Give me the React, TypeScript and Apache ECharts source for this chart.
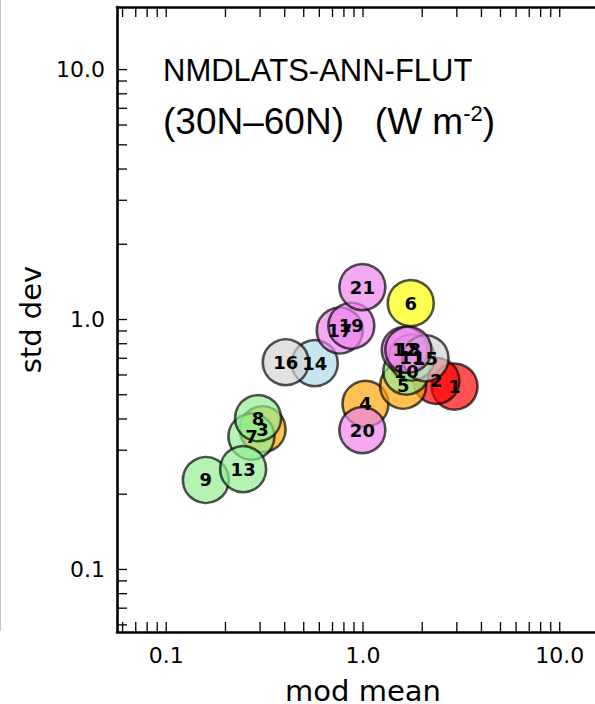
import React, { useEffect, useRef } from "react";
import * as echarts from "echarts";

// Model numbers plotted on each marker
const modelIds = [1, 2, 3, 4, 5, 6, 7, 8, 9, 10, 11, 12, 13, 14, 15, 16, 17, 18, 19, 20, 21];
// Annual-mean outgoing longwave flux (W m-2), 30N-60N
const modMean = [2.92, 2.36, 0.309, 1.03, 1.6, 1.75, 0.271, 0.293, 0.159, 1.66, 1.77, 1.63, 0.246, 0.569, 2.08, 0.405, 0.762, 1.70, 0.873, 0.993, 0.993];
const stdDev = [0.539, 0.568, 0.364, 0.46, 0.543, 1.163, 0.34, 0.403, 0.228, 0.619, 0.705, 0.757, 0.252, 0.669, 0.7, 0.675, 0.904, 0.757, 0.944, 0.361, 1.348];
// Model family of each entry
const modelFamily = ["A", "A", "B", "B", "B", "C", "D", "D", "D", "D", "D", "E", "D", "F", "G", "G", "E", "E", "E", "E", "E"];

// Axis ticks
const majorTicks = [0.1, 1, 10];
const majorTickLabels = ["0.1", "1.0", "10.0"];
const decades = [0.01, 0.1, 1, 10];
const minorMultipliers = [1, 2, 3, 4, 5, 6, 7, 8, 9];

const familyColors: Record<string, string> = {
  A: "#ff0000",
  B: "#ffa500",
  C: "#ffff00",
  D: "#90ee90",
  E: "#ee82ee",
  F: "#add8e6",
  G: "#d3d3d3",
};

const AX_MIN = 0.0562;
const AX_MAX = 17.8;
const TICK_LEN = 10;
const TICK_FONT = "DejaVu Sans";
const TITLE_FONT = "Liberation Sans";

function tickLabel(v: number): string {
  const i = majorTicks.findIndex((t) => Math.abs(Math.log10(v) - Math.log10(t)) < 1e-6);
  return i >= 0 ? majorTickLabels[i] : "";
}

export default function App() {
  const ref = useRef<HTMLDivElement>(null);

  useEffect(() => {
    if (!ref.current) return;
    const chart = echarts.init(ref.current, undefined, { renderer: "svg" });

    const tickValues = decades
      .flatMap((d) => minorMultipliers.map((m) => +(d * m).toPrecision(6)))
      .filter((v) => v > AX_MIN && v < AX_MAX);

    const points = modelIds.map((id, i) => ({
      value: [modMean[i], stdDev[i], id],
      itemStyle: { color: familyColors[modelFamily[i]] },
    }));

    const axisCommon = {
      type: "log" as const,
      logBase: 10,
      min: AX_MIN,
      max: AX_MAX,
      splitLine: { show: false },
      axisTick: { show: false },
      minorTick: { show: false },
      axisLine: { show: true, onZero: false, lineStyle: { color: "#000", width: 2.6 } },
    };

    chart.setOption({
      animation: false,
      grid: { left: 117, top: 7, width: 492, height: 625, outerBoundsMode: "none", containLabel: false },
      xAxis: [
        {
          ...axisCommon,
          position: "bottom",
          name: "mod mean",
          nameLocation: "middle",
          nameGap: 44,
          nameTextStyle: { fontFamily: TICK_FONT, fontSize: 29, color: "#000" },
          axisLabel: {
            show: true,
            margin: 12,
            fontFamily: TICK_FONT,
            fontSize: 22,
            color: "#000",
            showMinLabel: false,
            showMaxLabel: false,
            formatter: (v: number) => tickLabel(v),
          },
        },
        {
          ...axisCommon,
          position: "top",
          axisLabel: { show: false },
        },
      ],
      yAxis: {
        ...axisCommon,
        position: "left",
        name: "std dev",
        nameLocation: "middle",
        nameGap: 72,
        nameRotate: 90,
        nameTextStyle: { fontFamily: TICK_FONT, fontSize: 29, color: "#000" },
        axisLabel: {
          show: true,
          margin: 12,
          fontFamily: TICK_FONT,
          fontSize: 22,
          color: "#000",
          showMinLabel: false,
          showMaxLabel: false,
          formatter: (v: number) => tickLabel(v),
        },
      },
      graphic: [
        {
          type: "line",
          shape: { x1: 0.5, y1: 0, x2: 0.5, y2: 631 },
          style: { stroke: "#c8c8c8", lineWidth: 1 },
        },
        {
          type: "text",
          x: 163,
          y: 70,
          style: {
            text: "NMDLATS-ANN-FLUT",
            fontFamily: TITLE_FONT,
            fontSize: 31,
            fill: "#000",
            verticalAlign: "middle",
          },
        },
        {
          type: "text",
          x: 163,
          y: 121,
          style: {
            text: "(30N\u201360N)   (W m{sup|-2})",
            fontFamily: TITLE_FONT,
            fontSize: 37,
            fill: "#000",
            verticalAlign: "middle",
            rich: {
              sup: { fontFamily: TITLE_FONT, fontSize: 22, fill: "#000", verticalAlign: "top" },
            },
          },
        },
      ],
      series: [
        {
          type: "custom",
          name: "ticks",
          xAxisIndex: 0,
          yAxisIndex: 0,
          silent: true,
          clip: false,
          data: tickValues.map((v) => [v, v]),
          renderItem: (params: any, api: any) => {
            const v = api.value(0);
            const [px, py] = api.coord([v, v]);
            const cs = params.coordSys;
            const left = cs.x;
            const top = cs.y;
            const bottom = cs.y + cs.height;
            const style = { stroke: "#000", lineWidth: 1.3 };
            return {
              type: "group",
              children: [
                { type: "line", shape: { x1: px, y1: bottom, x2: px, y2: bottom - TICK_LEN }, style },
                { type: "line", shape: { x1: px, y1: top, x2: px, y2: top + TICK_LEN }, style },
                { type: "line", shape: { x1: left, y1: py, x2: left + TICK_LEN, y2: py }, style },
              ],
            };
          },
        },
        {
          type: "scatter",
          name: "models",
          symbol: "circle",
          symbolSize: 46,
          silent: true,
          itemStyle: { borderColor: "#000", borderWidth: 2.6, opacity: 0.68 },
          emphasis: { disabled: true },
          data: points,
          z: 3,
        },
        {
          type: "scatter",
          name: "model numbers",
          symbolSize: 0,
          silent: true,
          itemStyle: { opacity: 1 },
          data: points.map((p) => p.value),
          label: {
            show: true,
            position: "inside",
            formatter: (p: any) => String(p.value[2]),
            fontFamily: TICK_FONT,
            fontWeight: "bold",
            fontSize: 18,
            color: "#000",
            textBorderWidth: 0,
          },
          z: 5,
        },
      ],
    });

    return () => chart.dispose();
  }, []);

  return (
    <div
      ref={ref}
      style={{ position: "absolute", left: 0, top: 0, width: 595, height: 704 }}
    />
  );
}
